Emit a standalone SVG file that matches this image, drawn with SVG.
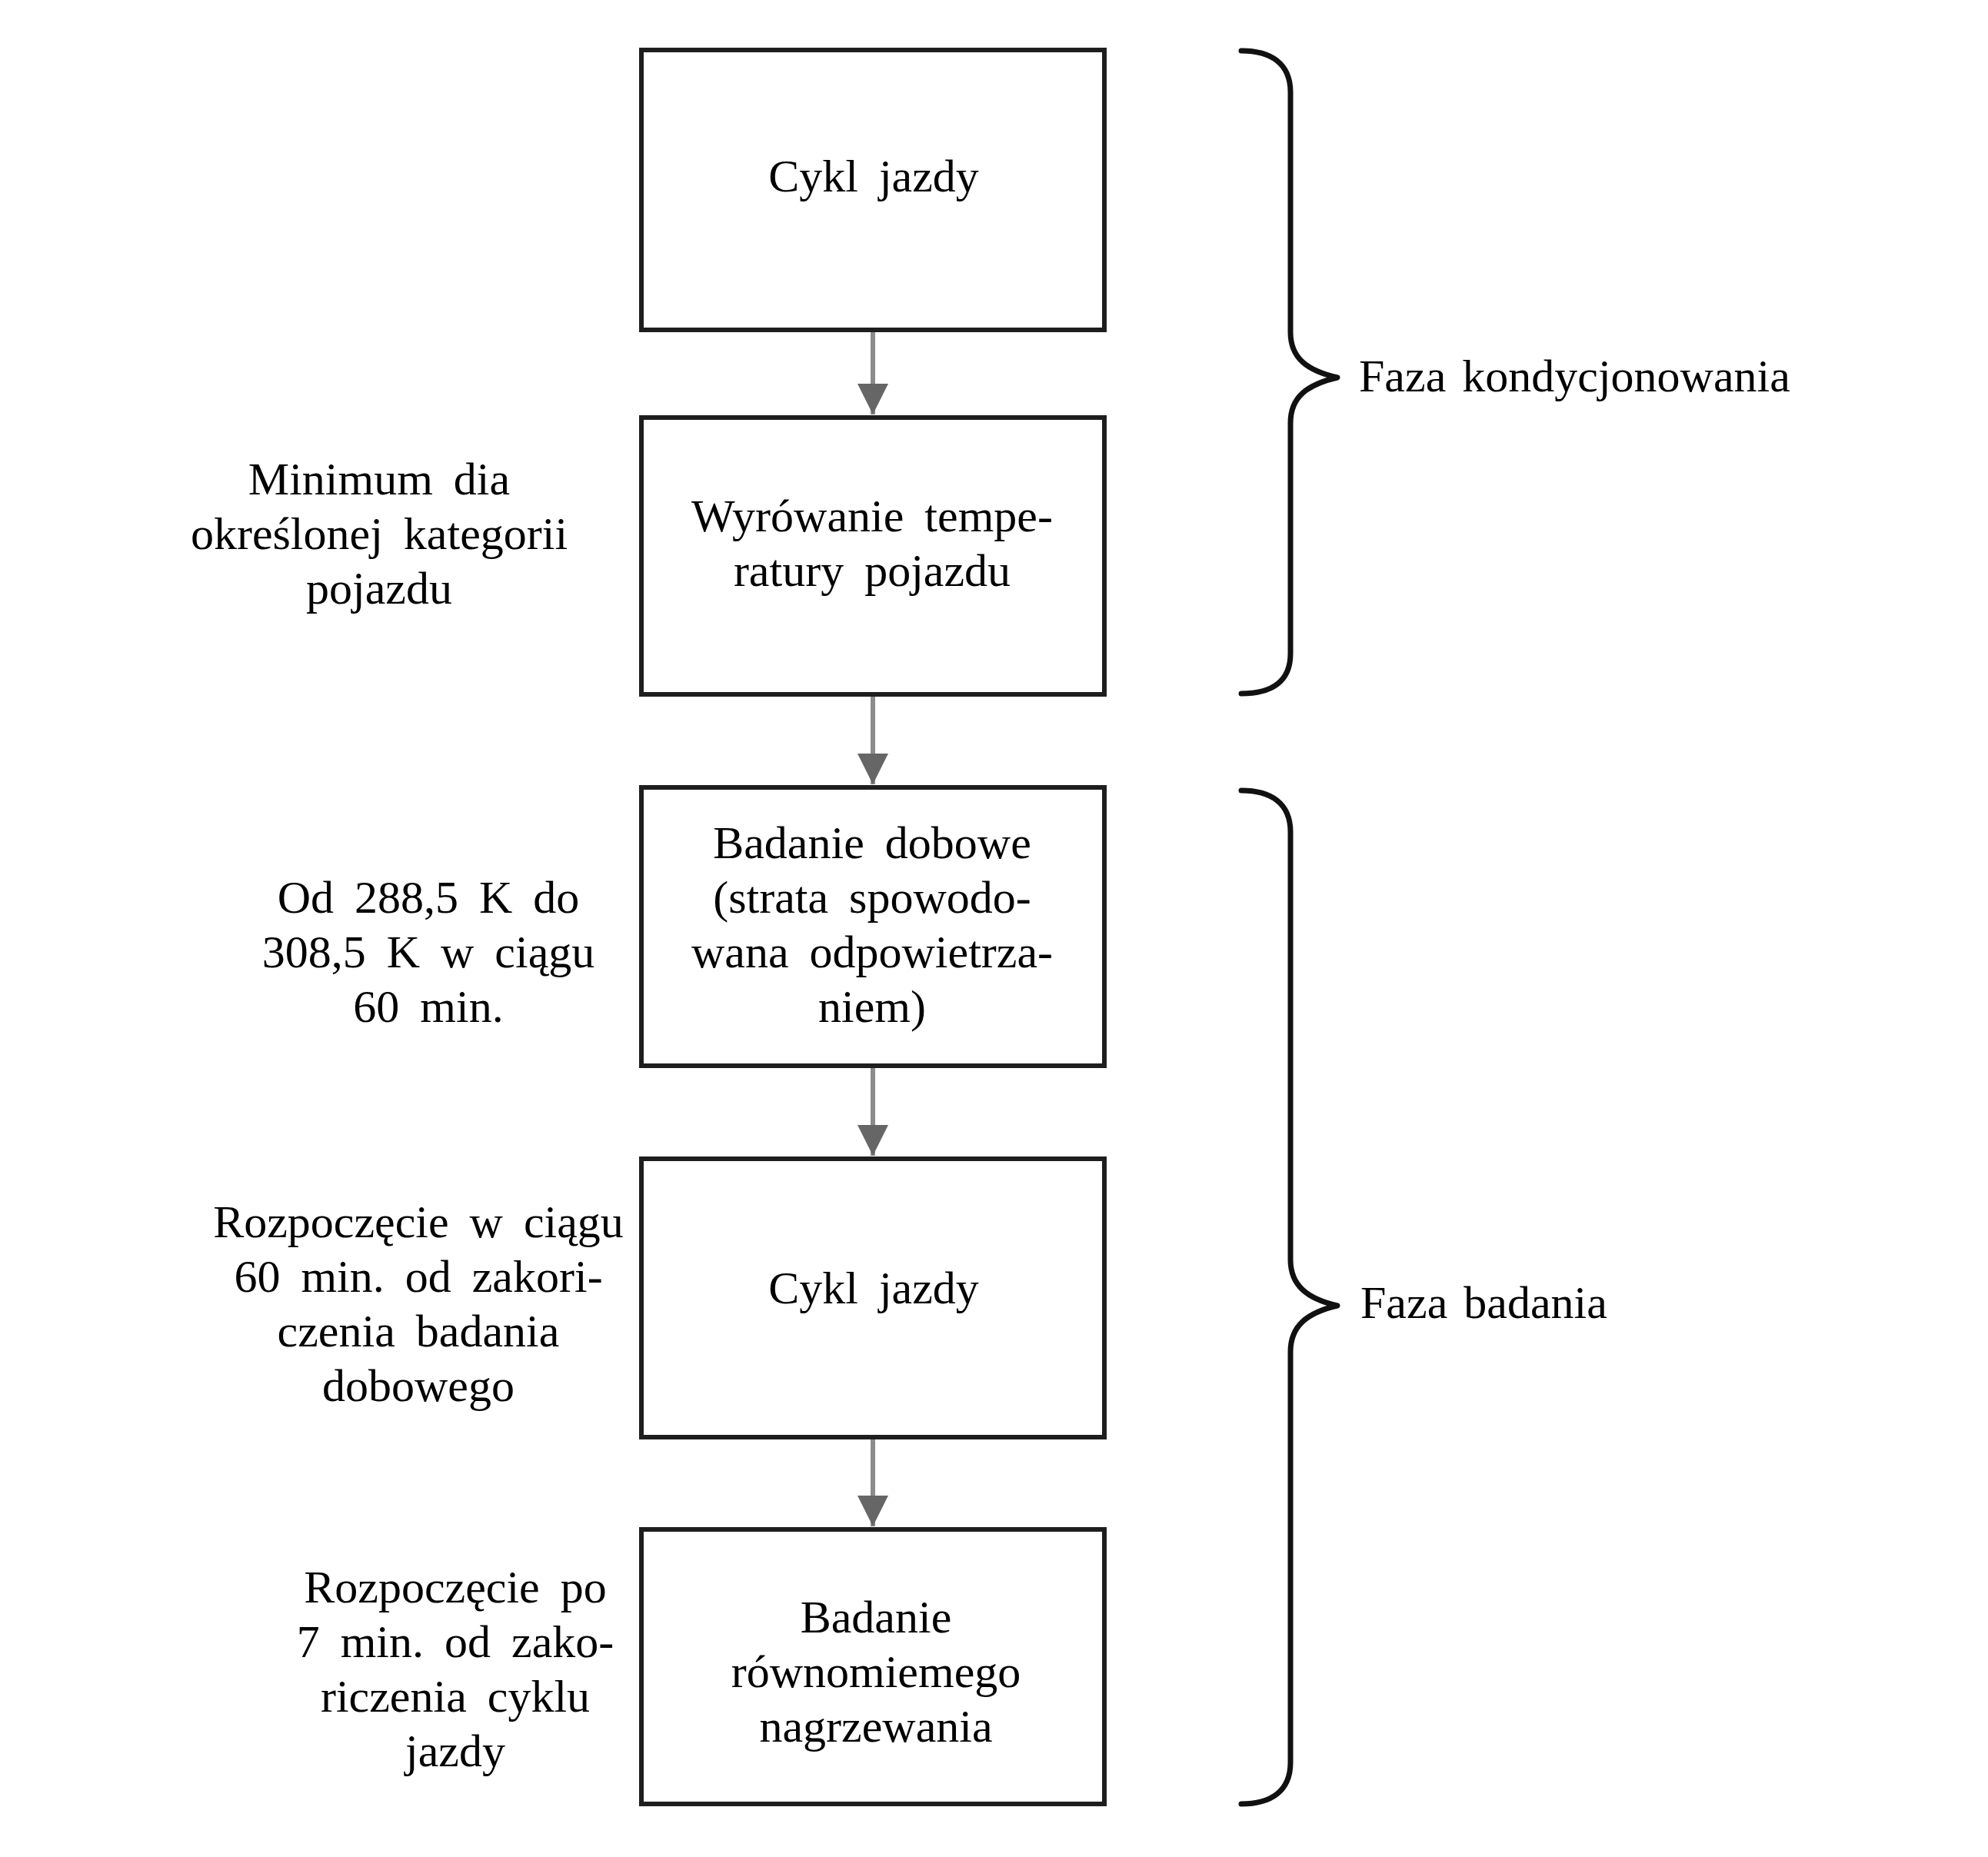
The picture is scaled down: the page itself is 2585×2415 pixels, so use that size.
<svg xmlns="http://www.w3.org/2000/svg" width="2585" height="2415" viewBox="0 0 2585 2415">
<style>
  .box { fill: #ffffff; stroke: #1e1e1e; stroke-width: 6; }
  .t { font-family: "Liberation Serif", "Times New Roman", serif; font-size: 60px; fill: #000; text-anchor: middle; word-spacing: 12px; }
  .tl { font-family: "Liberation Serif", "Times New Roman", serif; font-size: 60px; fill: #000; text-anchor: start; word-spacing: 6px; }
  .conn { stroke: #8c8c8c; stroke-width: 6; fill: none; }
  .brace { stroke: #111; stroke-width: 7; fill: none; stroke-linecap: round; stroke-linejoin: round; }
</style>
<defs>
  <marker id="ah" markerUnits="userSpaceOnUse" markerWidth="40" markerHeight="40" refX="40" refY="20" orient="auto" viewBox="0 0 40 40">
    <path d="M0,0 L40,20 L0,40 Z" fill="#666666"/>
  </marker>
</defs>
<rect width="2585" height="2415" fill="#ffffff"/>

<g id="connectors">
  <line class="conn" x1="1135" y1="431" x2="1135" y2="539" marker-end="url(#ah)"/>
  <line class="conn" x1="1135" y1="905" x2="1135" y2="1020" marker-end="url(#ah)"/>
  <line class="conn" x1="1135" y1="1388" x2="1135" y2="1503" marker-end="url(#ah)"/>
  <line class="conn" x1="1135" y1="1871" x2="1135" y2="1985" marker-end="url(#ah)"/>
</g>

<g id="node-cykl-jazdy-1">
  <rect class="box" x="834" y="65" width="602" height="364"/>
  <text class="t" x="1136" y="249">Cykl jazdy</text>
</g>

<g id="node-wyrownanie">
  <rect class="box" x="834" y="543" width="602" height="360"/>
  <text class="t" x="1134" y="691">Wyrówanie tempe-</text>
  <text class="t" x="1134" y="762">ratury pojazdu</text>
</g>

<g id="node-badanie-dobowe">
  <rect class="box" x="834" y="1024" width="602" height="362"/>
  <text class="t" x="1134" y="1116">Badanie dobowe</text>
  <text class="t" x="1134" y="1187">(strata spowodo-</text>
  <text class="t" x="1134" y="1258">wana odpowietrza-</text>
  <text class="t" x="1134" y="1329">niem)</text>
</g>

<g id="node-cykl-jazdy-2">
  <rect class="box" x="834" y="1507" width="602" height="362"/>
  <text class="t" x="1136" y="1695">Cykl jazdy</text>
</g>

<g id="node-badanie-nagrzewania">
  <rect class="box" x="834" y="1989" width="602" height="357"/>
  <text class="t" x="1139" y="2123">Badanie</text>
  <text class="t" x="1139" y="2194">równomiemego</text>
  <text class="t" x="1139" y="2265">nagrzewania</text>
</g>

<g id="label-minimum">
  <text class="t" x="493" y="643">Minimum dia</text>
  <text class="t" x="493" y="714">określonej kategorii</text>
  <text class="t" x="493" y="785">pojazdu</text>
</g>

<g id="label-od">
  <text class="t" x="557" y="1187">Od 288,5 K do</text>
  <text class="t" x="557" y="1258">308,5 K w ciągu</text>
  <text class="t" x="557" y="1329">60 min.</text>
</g>

<g id="label-rozpoczecie-1">
  <text class="t" x="544" y="1609">Rozpoczęcie w ciągu</text>
  <text class="t" x="544" y="1680">60 min. od zakori-</text>
  <text class="t" x="544" y="1751">czenia badania</text>
  <text class="t" x="544" y="1822">dobowego</text>
</g>

<g id="label-rozpoczecie-2">
  <text class="t" x="592" y="2084">Rozpoczęcie po</text>
  <text class="t" x="592" y="2155">7 min. od zako-</text>
  <text class="t" x="592" y="2226">riczenia cyklu</text>
  <text class="t" x="592" y="2297">jazdy</text>
</g>

<g id="brace-kondycjonowanie">
  <path class="brace" d="M1614,66 C1652,66 1678,82 1678,120 L1678,432 C1678,466 1700,482 1739,491 C1700,500 1678,516 1678,550 L1678,850 C1678,888 1652,902 1614,902"/>
  <text class="tl" x="1767" y="509">Faza kondycjonowania</text>
</g>

<g id="brace-badanie">
  <path class="brace" d="M1614,1028 C1652,1028 1678,1044 1678,1082 L1678,1638 C1678,1672 1700,1689 1739,1698 C1700,1707 1678,1724 1678,1758 L1678,2292 C1678,2330 1652,2346 1614,2346"/>
  <text class="tl" x="1769" y="1714">Faza badania</text>
</g>
</svg>
